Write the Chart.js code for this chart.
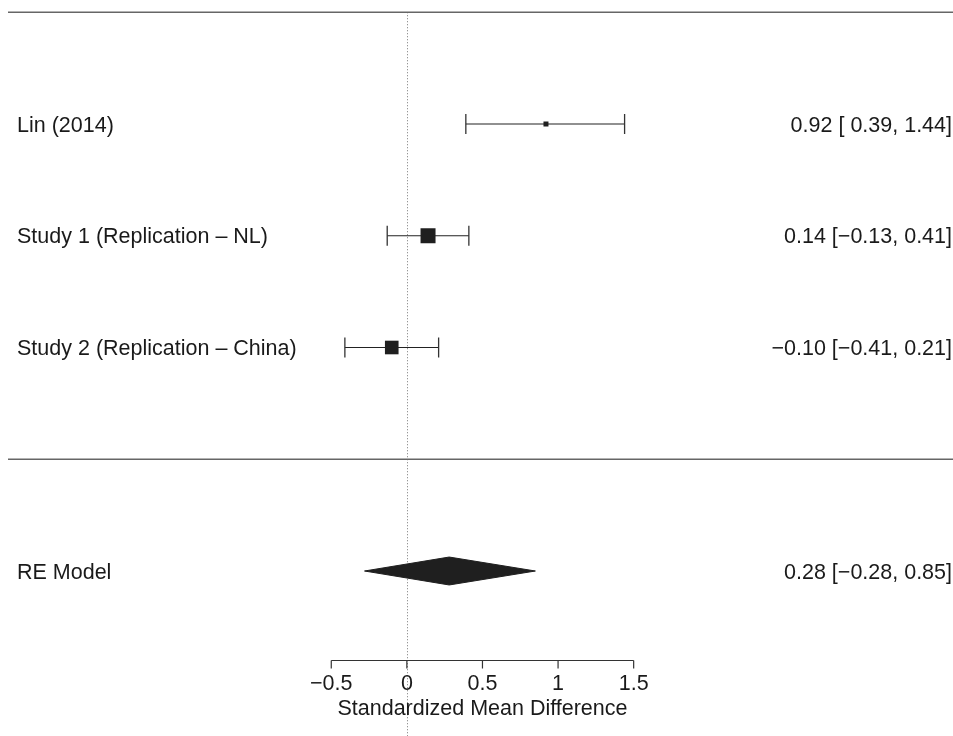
<!DOCTYPE html>
<html>
<head>
<meta charset="utf-8">
<script src="https://cdn.jsdelivr.net/npm/chart.js@4.4.1/dist/chart.umd.min.js"></script>
<style>
  html, body { margin: 0; padding: 0; background: #fff; }
  #wrap { width: 953px; height: 736px; position: relative; }
</style>
</head>
<body>
<div id="wrap"><canvas id="c" width="953" height="736"></canvas></div>
<script>
// ---- data ----
const studies = ["Lin (2014)", "Study 1 (Replication \u2013 NL)", "Study 2 (Replication \u2013 China)"];
const estimates = [0.92, 0.14, -0.10];
const lowerCI = [0.39, -0.13, -0.41];
const upperCI = [1.44, 0.41, 0.21];
const weights = [29.3, 35.8, 34.9];       // RE weights (%)
const studyLabels = ["0.92 [ 0.39, 1.44]", "0.14 [\u22120.13, 0.41]", "\u22120.10 [\u22120.41, 0.21]"];
const modelName = "RE Model";
const modelEstimate = 0.28;
const modelLower = -0.28;
const modelUpper = 0.85;
const modelLabel = "0.28 [\u22120.28, 0.85]";
const xTicks = [-0.5, 0, 0.5, 1, 1.5];
const xTickLabels = ["\u22120.5", "0", "0.5", "1", "1.5"];
const xTitle = "Standardized Mean Difference";

// ---- layout (rows) ----
const k = studies.length;
const studyRows = studies.map((_, i) => k - i);  // 3,2,1
const modelRow = -1;
const topRuleRow = k + 1;
const midRuleRow = 0;
const axisRow = -1.8;
const diamondHalf = 0.125;
const FONT = '21.5px "Liberation Sans", Arial, Helvetica, sans-serif';
const TEXT_DY = 7.7;

// box sizes: linear mapping of weights to 0.5..1.5 (cex), 10px per cex
const wMin = Math.min(...weights), wMax = Math.max(...weights);
const boxSide = weights.map(w => 10 * (0.5 + (w - wMin) / (wMax - wMin)));

const datasets = [];
studies.forEach((s, i) => {
  datasets.push({
    type: 'line',
    data: [{x: lowerCI[i], y: studyRows[i]}, {x: upperCI[i], y: studyRows[i]}],
    borderColor: '#222',
    borderWidth: 1.2,
    pointStyle: 'line',
    rotation: 90,
    pointRadius: 10,
    pointBorderColor: '#333',
    pointBorderWidth: 1.3,
    fill: false,
    order: 2
  });
});
datasets.push({
  type: 'scatter',
  data: studies.map((s, i) => ({x: estimates[i], y: studyRows[i]})),
  pointStyle: 'rect',
  pointRadius: boxSide.map(s => s / (2 * Math.SQRT1_2)),
  backgroundColor: '#1f1f1f',
  borderColor: '#1f1f1f',
  borderWidth: 0,
  order: 1
});
datasets.push({
  type: 'line',
  data: [
    {x: modelLower, y: modelRow},
    {x: modelEstimate, y: modelRow + diamondHalf},
    {x: modelUpper, y: modelRow},
    {x: modelEstimate, y: modelRow - diamondHalf},
    {x: modelLower, y: modelRow}
  ],
  borderColor: '#1f1f1f',
  borderWidth: 1,
  backgroundColor: '#1f1f1f',
  fill: 'shape',
  pointRadius: 0,
  tension: 0,
  order: 1
});

const forestPlugin = {
  id: 'forest',
  beforeDatasetsDraw(chart) {
    const ctx = chart.ctx, xs = chart.scales.x, ys = chart.scales.y, ca = chart.chartArea;
    ctx.save();
    // dotted reference line at 0
    const x0 = Math.round(xs.getPixelForValue(0)) + 0.5;
    ctx.strokeStyle = '#777';
    ctx.lineWidth = 1;
    ctx.setLineDash([1, 2]);
    ctx.beginPath();
    ctx.moveTo(x0, ys.getPixelForValue(topRuleRow));
    ctx.lineTo(x0, chart.height);
    ctx.stroke();
    ctx.setLineDash([]);
    // horizontal rules
    ctx.strokeStyle = '#666';
    ctx.lineWidth = 1.4;
    [topRuleRow, midRuleRow].forEach(r => {
      const y = ys.getPixelForValue(r);
      ctx.beginPath();
      ctx.moveTo(ca.left, y);
      ctx.lineTo(ca.right, y);
      ctx.stroke();
    });
    ctx.restore();
  },
  afterDatasetsDraw(chart) {
    const ctx = chart.ctx, xs = chart.scales.x, ys = chart.scales.y;
    ctx.save();
    ctx.font = FONT;
    ctx.fillStyle = '#1a1a1a';
    ctx.textBaseline = 'alphabetic';
    studies.forEach((s, i) => {
      const y = ys.getPixelForValue(studyRows[i]) + TEXT_DY;
      ctx.textAlign = 'left';
      ctx.fillText(s, 17, y);
      ctx.textAlign = 'right';
      ctx.fillText(studyLabels[i], 952, y);
    });
    const ym = ys.getPixelForValue(modelRow) + TEXT_DY;
    ctx.textAlign = 'left';
    ctx.fillText(modelName, 17, ym);
    ctx.textAlign = 'right';
    ctx.fillText(modelLabel, 952, ym);
    // axis
    const ya = Math.round(ys.getPixelForValue(axisRow)) + 0.5;
    ctx.strokeStyle = '#333';
    ctx.lineWidth = 1.2;
    ctx.beginPath();
    ctx.moveTo(xs.getPixelForValue(xTicks[0]), ya);
    ctx.lineTo(xs.getPixelForValue(xTicks[xTicks.length - 1]), ya);
    xTicks.forEach(t => {
      const px = xs.getPixelForValue(t);
      ctx.moveTo(px, ya);
      ctx.lineTo(px, ya + 8);
    });
    ctx.stroke();
    ctx.textAlign = 'center';
    xTicks.forEach((t, i) => {
      ctx.fillText(xTickLabels[i], xs.getPixelForValue(t), ya + 29.5);
    });
    const midX = (xs.getPixelForValue(xTicks[0]) + xs.getPixelForValue(xTicks[xTicks.length - 1])) / 2;
    ctx.fillText(xTitle, midX, ya + 54);
    ctx.restore();
  }
};

new Chart(document.getElementById('c'), {
  type: 'scatter',
  data: { datasets },
  options: {
    responsive: false,
    animation: false,
    events: [],
    layout: { autoPadding: false, padding: { left: 8, right: 0, top: 0, bottom: 0 } },
    plugins: { legend: { display: false }, tooltip: { enabled: false } },
    scales: {
      x: { type: 'linear', display: false, min: -2.638, max: 3.612 },
      y: { type: 'linear', display: false, min: -2.4765, max: 4.1096 }
    }
  },
  plugins: [forestPlugin]
});
</script>
</body>
</html>
